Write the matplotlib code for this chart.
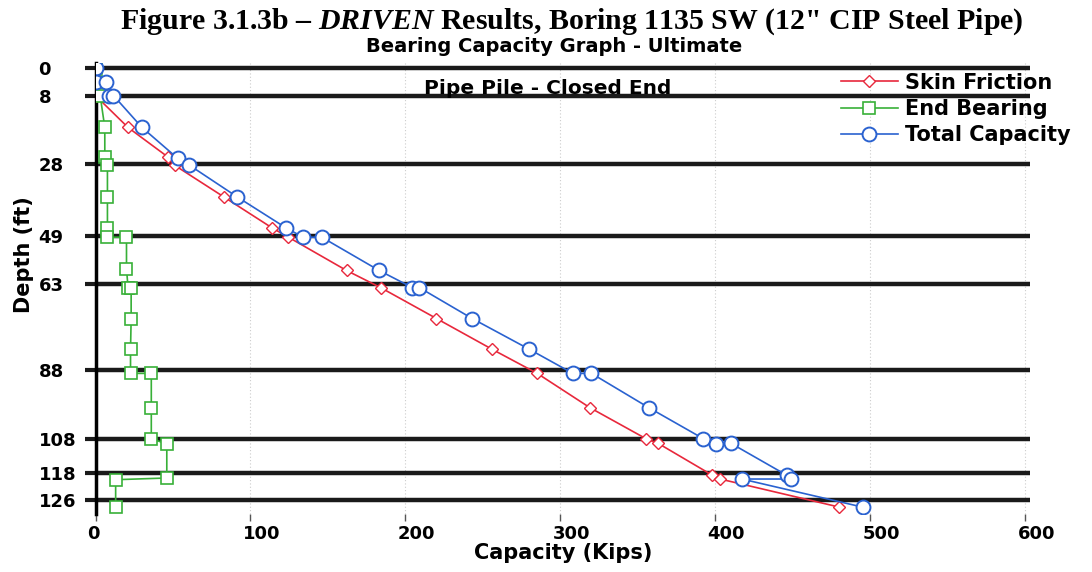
import matplotlib.pyplot as plt
from matplotlib.transforms import ScaledTranslation

plt.rcParams["mathtext.fontset"] = "custom"
plt.rcParams["mathtext.it"] = "Liberation Serif:italic:bold"
plt.rcParams["mathtext.rm"] = "Liberation Serif:bold"

# layer boundaries shown as ticks
depth_ticks = [0, 8, 28, 49, 63, 88, 108, 118, 126]
cap_ticks = [0, 100, 200, 300, 400, 500, 600]

# Skin friction
skin_depth = [8, 17.3, 26, 28.3, 37.6, 46.6, 49.3, 59, 64, 73, 82, 89, 99, 108, 109.4, 118.7, 119.8, 128]
skin_cap = [0, 21, 47, 51, 83, 114, 124.5, 162, 184, 220, 256, 285, 319, 355, 363, 398, 403, 480]

# End bearing
end_depth = [0, 4, 8, 17.3, 26, 28.3, 37.6, 46.6, 49.3, 49.3, 58.5, 64, 64, 73, 82, 89, 89, 99, 108,
             109.6, 119.5, 120, 128]
end_cap = [0, 0, 3, 6, 6, 7.7, 7.7, 7.7, 7.7, 20, 20, 21, 23, 23, 22.6, 22.6, 36, 36, 36,
           46, 46, 13, 13]

# Total capacity
total_depth = [0, 4, 4, 8, 8, 17.3, 26.3, 28.3, 37.6, 46.6, 49.3, 49.3, 59, 64, 64, 73, 82, 89, 89,
               99, 108, 109.6, 109.4, 118.7, 119.8, 119.8, 128]
total_cap = [0, 0, 7, 8.4, 11.6, 30, 53, 60.6, 91.6, 123, 134, 146, 183, 204.5, 209, 243, 280, 308, 320,
             357, 392, 400.6, 410, 446, 449, 417, 495]

RED = "#e8283c"
GREEN = "#38b038"
BLUE = "#2a62d0"
SANS = "DejaVu Sans"

fig = plt.figure(figsize=(10.92, 5.72), dpi=100)
ax = fig.add_axes([95.5 / 1092, 1 - 514 / 572, 934.6 / 1092, 451 / 572])

fig.text(572 / 1092, 1 - 22 / 572,
         "Figure 3.1.3b \u2013 $\\it{DRIVEN}$ Results, Boring 1135 SW (12\" CIP Steel Pipe)",
         ha="center", va="center", fontsize=21.5, fontweight="bold", family="Liberation Serif")
fig.text(554 / 1092, 1 - 47 / 572, "Bearing Capacity Graph - Ultimate",
         ha="center", va="center", fontsize=14, fontweight="bold", family=SANS)

for d in depth_ticks:
    ax.axhline(d, color="#1a1a1a", lw=3.2, zorder=1)
for c in cap_ticks[1:]:
    ax.axvline(c, color="#cccccc", lw=0.8, ls=(0, (1, 2)), zorder=0)

ax.plot(skin_cap, skin_depth, color=RED, lw=1.2, marker="D", ms=6, mfc="white", mec=RED,
        mew=1, label="Skin Friction", zorder=3)
ax.plot(end_cap, end_depth, color=GREEN, lw=1.2, marker="s", ms=8.5, mfc="white", mec=GREEN,
        mew=1.2, label="End Bearing", zorder=3)
ax.plot(total_cap, total_depth, color=BLUE, lw=1.2, marker="o", ms=10, mfc="white", mec=BLUE,
        mew=1.4, label="Total Capacity", zorder=4)

ax.set_xlim(0, 603)
ax.set_ylim(130, -1.5)
ax.set_xticks(cap_ticks)
ax.set_yticks(depth_ticks)
ax.tick_params(axis="y", length=8, width=3, color="#1a1a1a", pad=33)
ax.tick_params(axis="x", length=5, width=1, color="#555555", pad=3)
for lab in ax.get_yticklabels():
    lab.set_horizontalalignment("left")
for lab in ax.get_xticklabels():
    lab.set_horizontalalignment("left")
    lab.set_transform(lab.get_transform() + ScaledTranslation(-8 / 100, 0, fig.dpi_scale_trans))
for lab in ax.get_xticklabels() + ax.get_yticklabels():
    lab.set_fontweight("bold")
    lab.set_fontsize(13)
    lab.set_family(SANS)

for s in ["top", "right", "bottom"]:
    ax.spines[s].set_visible(False)
ax.spines["left"].set_linewidth(2.5)

ax.set_xlabel("Capacity (Kips)", fontsize=15, fontweight="bold", family=SANS, labelpad=0)
ax.set_ylabel("Depth (ft)", fontsize=15, fontweight="bold", family=SANS)
ax.yaxis.set_label_coords(-62 / 934.6, 0.575)

ax.text(292, 5.8, "Pipe Pile - Closed End", ha="center", va="center", fontsize=14.5,
        fontweight="bold", family=SANS, zorder=5)

ax.legend(loc="upper left", bbox_to_anchor=(727 / 934.6, 1.02), frameon=False,
          prop={"family": SANS, "weight": "bold", "size": 15},
          handlelength=2.7, handletextpad=0.35, labelspacing=0.3)

fig.savefig("out.png", dpi=100)
